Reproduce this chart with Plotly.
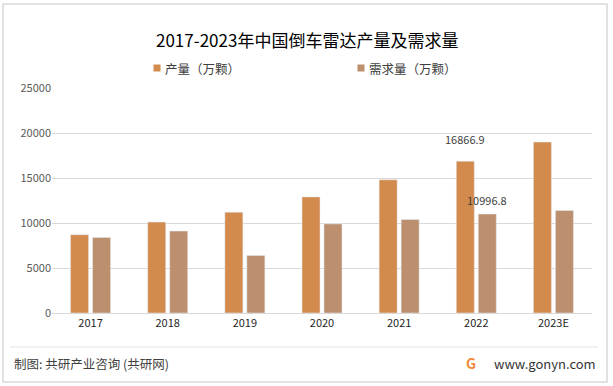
import plotly.graph_objects as go

categories = ["2017", "2018", "2019", "2020", "2021", "2022", "2023E"]
production = [8700, 10100, 11200, 12900, 14800, 16866.9, 19000]
demand = [8400, 9100, 6400, 9900, 10400, 10996.8, 11400]
series_names = ["产量（万颗）", "需求量（万颗）"]
y_ticks = [0, 5000, 10000, 15000, 20000, 25000]
label_year = "2022"

W, H = 613, 386
ML, MR, MT, MB = 52, 21, 88, 73
PW, PH = W - ML - MR, H - MT - MB

def px(x):
    return (x - ML) / PW

def py(y):
    return (H - MB - y) / PH

FONT = "Noto Sans CJK SC, Noto Sans, sans-serif"
C_PROD = "#D38B4D"
C_DEM = "#BC8F6E"
colors = [C_PROD, C_DEM]

fig = go.Figure()
fig.add_trace(go.Bar(x=categories, y=production, name=series_names[0],
                     marker=dict(color=C_PROD), offsetgroup="a"))
fig.add_trace(go.Bar(x=categories, y=demand, name=series_names[1],
                     marker=dict(color=C_DEM), offsetgroup="b"))

i = categories.index(label_year)
fig.add_annotation(x=i, y=production[i], text=str(production[i]),
                   xshift=-11, yshift=22, showarrow=False,
                   font=dict(size=11, color="#404040", family=FONT))
fig.add_annotation(x=i, y=demand[i], text=str(demand[i]),
                   xshift=11, yshift=14, showarrow=False,
                   font=dict(size=11, color="#404040", family=FONT))

# title
fig.add_annotation(xref="paper", yref="paper", x=px(W / 2), y=py(40),
                   text="2017-2023年中国倒车雷达产量及需求量", showarrow=False,
                   xanchor="center", yanchor="middle",
                   font=dict(size=17, color="#000000", family=FONT))

shapes = []
# legend (manual)
legend_x = [157, 361]
for name, col, lx in zip(series_names, colors, legend_x):
    shapes.append(dict(type="rect", xref="paper", yref="paper",
                       x0=px(lx - 3.5), x1=px(lx + 3.5), y0=py(71.5), y1=py(64.5),
                       fillcolor=col, line=dict(width=0)))
    fig.add_annotation(xref="paper", yref="paper", x=px(lx + 6), y=py(68),
                       text=name, showarrow=False, xanchor="left", yanchor="middle",
                       font=dict(size=12.5, color="#404040", family=FONT))

# footer
fig.add_annotation(xref="paper", yref="paper", x=px(12), y=py(363),
                   text="制图: 共研产业咨询 (共研网)", showarrow=False,
                   xanchor="left", yanchor="middle",
                   font=dict(size=12.5, color="#404040", family=FONT))
fig.add_annotation(xref="paper", yref="paper", x=px(598), y=py(363),
                   text="www.gonyn.com", showarrow=False,
                   xanchor="right", yanchor="middle",
                   font=dict(size=13, color="#333333", family=FONT))
fig.add_annotation(xref="paper", yref="paper", x=px(471), y=py(363),
                   text="<b>G</b>", showarrow=False,
                   xanchor="center", yanchor="middle",
                   font=dict(size=14, color="#F08A3C", family=FONT))

shapes += [
    dict(type="rect", xref="paper", yref="paper", x0=px(3), x1=px(607), y0=py(382), y1=py(4),
         line=dict(color="#D9D9D9", width=1.5), fillcolor="rgba(0,0,0,0)", layer="below"),
    dict(type="line", xref="paper", yref="paper", x0=px(10), x1=px(598), y0=py(347), y1=py(347),
         line=dict(color="#E3E3E3", width=1)),
]

fig.update_layout(
    width=W, height=H,
    margin=dict(l=ML, r=MR, t=MT, b=MB, autoexpand=False),
    paper_bgcolor="white", plot_bgcolor="white",
    barmode="group", bargap=0.43, bargroupgap=0.18,
    font=dict(family=FONT, color="#595959", size=11),
    showlegend=False,
    hovermode=False,
    shapes=shapes,
    xaxis=dict(type="category", categoryorder="array", categoryarray=categories,
               showgrid=False, showline=True, linecolor="#D9D9D9",
               ticks="", tickfont=dict(size=11, color="#262626")),
    yaxis=dict(range=[0, 25000], tickvals=y_ticks, tickformat="d", showgrid=True,
               gridcolor="#D9D9D9", zeroline=False, showline=False, ticks="",
               tickfont=dict(size=11, color="#595959")),
)

fig.write_html("out.html", config={"displayModeBar": False},
               post_script="document.body.style.margin='0';")
